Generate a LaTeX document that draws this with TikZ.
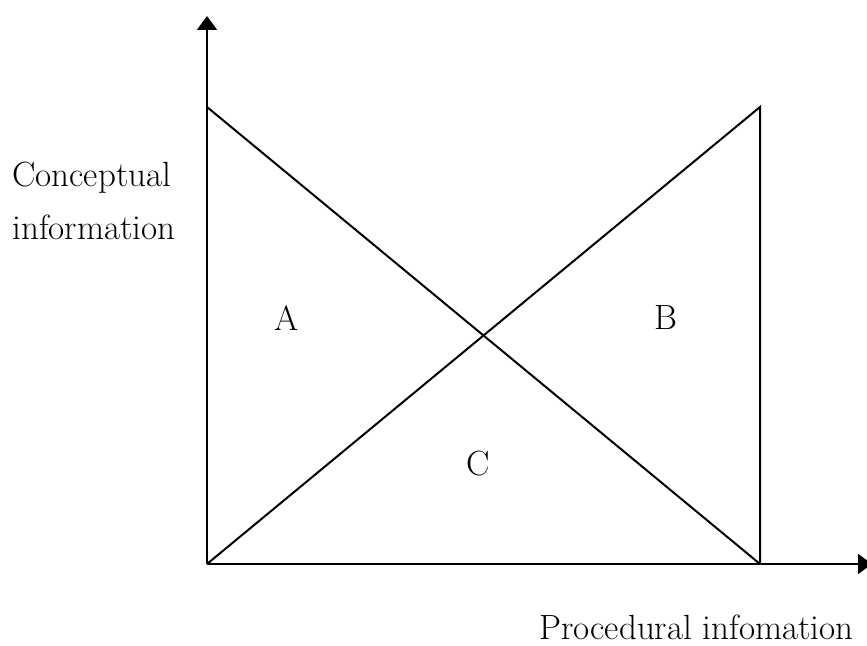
\documentclass[tikz,border=0pt]{standalone}
\usepackage{tikz}
\usetikzlibrary{arrows.meta}

\begin{document}
\begin{tikzpicture}[
    x=0.5pt, y=0.5pt,
    axis/.style={line width=1pt, -{Triangle[length=7pt,width=10pt]}},
    edge/.style={line width=1pt},
    lbl/.style={font=\fontsize{17.5}{21}\selectfont, inner sep=0pt}
  ]
  \useasboundingbox (0,0) rectangle (867,646);
  % corners of the region
  \coordinate (orig) at (207,82);
  \coordinate (tl) at (207,539);
  \coordinate (tr) at (760,539);
  \coordinate (br) at (760,82);
  \coordinate (ytip) at (207,630);
  \coordinate (xtip) at (872,82);

  \draw[axis] (orig)--(ytip);
  \draw[axis] (orig)--(xtip);
  \draw[edge] (tl)--(br);
  \draw[edge] (orig)--(tr)--(br);

  \node[lbl, anchor=base west] (cname) at (12,459) {Conceptual};
  \node[lbl, anchor=base west] (cinfo) at (12,406) {information};
  \node[lbl, anchor=base west] (proc) at (539,6) {Procedural infomation};
  \node[lbl] (regA) at (287,328) {A};
  \node[lbl] (regB) at (666,328) {B};
  \node[lbl] (regC) at (478,182) {C};
\end{tikzpicture}
\end{document}
